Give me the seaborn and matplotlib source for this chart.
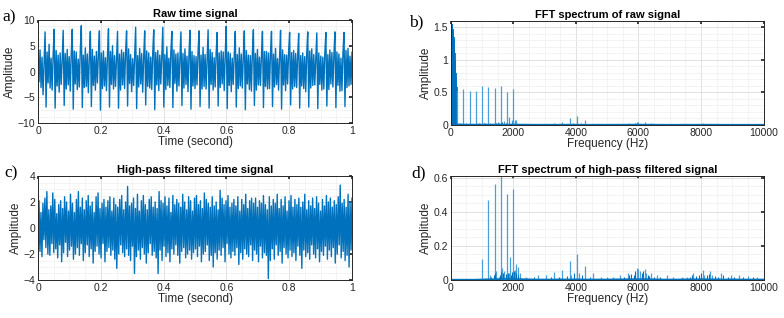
"""
Raw / high-pass filtered time signals and their FFT spectra (4 panels).
"""

import matplotlib
matplotlib.use("Agg")
import matplotlib.pyplot as plt
from matplotlib.ticker import MultipleLocator
import seaborn as sns
import numpy as np

BLUE = "#0072BD"
LIGHT_BLUE = "#4a9fd8"

# ---- raw time signal (samples over 0..1 s) ----
raw_signal = [
    3.5, -2.0, 4.2, -3.1, 2.8, -4.5, 1.5,
    7.7, -6.9, 3.8, -2.2, 5.3, -3.2, 2.6, -3.6, 3.0,
    8.2, -7.1, 4.1, -2.8, 3.2, -4.0, 3.6, -2.5, 2.2,
    8.0, -6.6, 3.5, -3.4, 4.3, -2.6, 2.9, -3.8, 3.3,
    8.2, -7.3, 4.0, -2.4, 3.8, -3.5, 2.4, -3.0, 4.1,
    8.9, -7.0, 3.2, -3.1, 4.6, -2.9, 3.4, -4.1, 2.8,
    7.8, -6.8, 4.3, -2.7, 3.0, -3.6, 3.9, -2.2, 3.5,
    7.9, -7.5, 3.6, -3.3, 4.0, -2.8, 2.7, -3.7, 3.1,
    8.3, -6.9, 3.9, -2.5, 5.0, -3.4, 3.1, -2.9, 2.6,
    7.8, -7.1, 3.4, -3.6, 4.2, -2.6, 3.7, -3.3, 3.8,
    7.9, -6.7, 4.4, -2.3, 3.3, -3.9, 2.5, -2.7, 3.0,
    8.6, -7.2, 3.1, -3.0, 4.5, -2.4, 3.5, -4.0, 2.9,
    7.9, -6.5, 4.0, -2.9, 3.6, -3.2, 2.8, -3.5, 3.7,
    8.1, -7.4, 3.7, -2.6, 4.1, -3.7, 3.2, -2.4, 3.2,
    8.6, -6.9, 3.3, -3.5, 4.8, -2.7, 2.6, -3.1, 3.9,
    7.8, -7.0, 4.2, -2.3, 3.4, -3.8, 3.6, -2.8, 2.7,
    7.7, -6.6, 3.5, -3.2, 4.4, -2.5, 3.0, -3.9, 3.4,
    8.0, -7.3, 3.9, -2.8, 3.1, -3.3, 2.9, -2.6, 3.8,
    7.9, -6.8, 3.2, -3.4, 4.7, -2.9, 3.3, -3.4, 2.5,
    8.1, -7.1, 4.3, -2.5, 3.7, -3.6, 2.7, -3.0, 3.6,
    7.6, -6.7, 3.6, -3.1, 4.0, -2.4, 3.8, -3.7, 3.1,
    8.8, -7.2, 3.8, -2.7, 3.5, -3.9, 2.6, -2.5, 3.3,
    7.8, -6.9, 3.3, -3.3, 4.6, -2.8, 3.4, -3.2, 2.9,
    7.9, -7.4, 4.1, -2.4, 3.2, -3.5, 3.1, -3.8, 3.7,
    8.1, -6.6, 3.5, -3.6, 4.3, -2.6, 2.8, -2.7, 3.0,
    7.8, -7.0, 3.9, -2.9, 3.9, -3.4, 3.6, -3.3, 3.5,
    7.8, -6.8, 3.4, -3.0, 4.5, -2.5, 2.5, -3.6, 2.8,
    8.0, -7.3, 4.2, -2.6, 3.3, -3.7, 3.2, -2.4, 3.9,
    7.6, -6.5, 3.7, -3.4, 4.1, -2.9, 3.5, -3.1, 3.2,
    7.4, -7.1, 3.1, -2.8, 3.6, -3.3, 2.9, -3.9, 3.4,
    7.7, -6.9, 4.0, -3.2, 4.4, -2.7, 3.3, -2.6, 2.7,
    7.5, -7.2, 3.6, -2.5, 3.0, -3.6, 2.8, -3.4, 3.6,
    7.6, -6.7, 3.3, -3.5, 4.2, -2.4, 3.7, -3.0, 3.1,
    7.7, -7.0, 3.8, -2.7, 3.4, -3.8, 2.6, -3.7, 3.5,
    7.6, -6.8, 4.1, -3.1, 4.5, -2.8, 3.0, -2.5, 3.8,
]

# ---- high-pass filtered time signal, in tenths ----
hp_signal_tenths = [
    -34, 21, -18, 12, -22, 19, -9, 23, -15, 28, -20, 14, -21, 17, -12, 27, -19, 22, -16, 11,
    -23, 18, -13, 21, -26, 15, -19, 24, -11, 20, -22, 13, -17, 26, -14, 19, -24, 12, -20, 22,
    -15, 28, -21, 16, -12, 23, -25, 14, -19, 21, -13, 25, -22, 17, -16, 20, -27, 12, -18, 24,
    -14, 27, -20, 15, -23, 19, -12, 22, -26, 16, -18, 21, -15, 24, -21, 13, -17, 23, -24, 18,
    -31, 16, -20, 22, -13, 25, -19, 14, -22, 20, -16, 32, -21, 17, -25, 19, -14, 23, -35, 15,
    -22, 26, -17, 13, -24, 21, -15, 25, -20, 18, -27, 14, -19, 22, -12, 24, -21, 16, -18, 20,
    -23, 15, -35, 28, -17, 21, -25, 19, -14, 24, -22, 17, -19, 23, -26, 12, -16, 25, -20, 18,
    -13, 22, -21, 19, -27, 16, -18, 26, -15, 20, -23, 14, -20, 24, -17, 21, -24, 13, -19, 23,
    -16, 25, -22, 18, -14, 21, -26, 15, -20, 27, -18, 22, -13, 19, -25, 16, -21, 24, -30, 17,
    -19, 20, -24, 14, -17, 29, -21, 23, -15, 18, -26, 21, -12, 25, -20, 16, -23, 19, -18, 22,
    -21, 17, -15, 24, -28, 13, -19, 22, -24, 18, -16, 26, -20, 15, -22, 21, -13, 23, -25, 19,
    -17, 23, -20, 16, -26, 21, -14, 19, -23, 25, -19, 18, -21, 14, -39, 24, -25, 17, -16, 22,
    -24, 19, -13, 26, -21, 15, -18, 22, -27, 17, -15, 24, -20, 13, -23, 21, -17, 25, -22, 16,
    -19, 22, -25, 18, -14, 23, -21, 16, -31, 20, -17, 26, -22, 14, -19, 21, -24, 17, -13, 23,
    -20, 15, -23, 24, -16, 19, -26, 13, -18, 22, -21, 17, -14, 25, -24, 20, -17, 23, -22, 16,
    -15, 21, -27, 18, -20, 24, -13, 33, -23, 19, -18, 22, -25, 16, -21, 26, -30, 20, -17, 23,
]

# ---- FFT of raw signal ----
raw_low_freq = [5, 15, 25, 35, 45, 55, 65, 75, 85, 95, 105, 115, 125, 135, 145, 155, 165, 175, 185]
raw_low_amp = [1.42, 1.50, 1.55, 1.48, 1.53, 1.45, 1.47, 1.40, 1.43, 1.35, 1.30, 1.22,
               1.10, 1.00, 0.90, 0.80, 0.74, 0.65, 0.58]
raw_harm_freq = [200, 400, 600, 800, 1000, 1200, 1400, 1600, 1800, 2000]
raw_harm_amp = [0.53, 0.55, 0.52, 0.53, 0.60, 0.58, 0.57, 0.60, 0.50, 0.55]
raw_minor_freq = [300, 500, 700, 900, 1100, 1300, 1500, 1700, 1850, 1950, 2050, 2100, 2400,
                  3000, 3300, 3550, 3800, 4050, 4300, 4550, 5400, 5700, 5950, 6000, 6200,
                  6400, 6600, 7000, 7700, 8050, 8300, 8600, 8900, 9200, 9600]
raw_minor_amp = [0.03, 0.03, 0.02, 0.03, 0.03, 0.02, 0.04, 0.06, 0.12, 0.08, 0.08, 0.07, 0.02,
                 0.02, 0.03, 0.05, 0.10, 0.14, 0.07, 0.02, 0.02, 0.03, 0.05, 0.04, 0.04,
                 0.03, 0.02, 0.02, 0.02, 0.03, 0.02, 0.02, 0.02, 0.02, 0.02]

# ---- FFT of high-pass filtered signal ----
hp_harm_freq = [1000, 1200, 1400, 1600, 1800, 1890, 2000, 2100, 2140]
hp_harm_amp = [0.125, 0.47, 0.565, 0.61, 0.505, 0.135, 0.535, 0.095, 0.075]
hp_minor_freq = [1250, 1450, 1650, 1700, 1850, 2050, 2200, 2400, 2800, 3050, 3300, 3550, 3800,
                 3850, 4050, 4100, 4300, 4550, 4800, 5000, 5200, 5400, 5650, 5950, 6000, 6050,
                 6200, 6250, 6400, 6600, 6900, 7100, 7400, 7550, 7750, 8050, 8100, 8300, 8350,
                 8650, 8950, 9200, 9500, 9800]
hp_minor_amp = [0.03, 0.05, 0.07, 0.05, 0.04, 0.06, 0.04, 0.02, 0.03, 0.03, 0.045, 0.06, 0.11,
                0.03, 0.155, 0.04, 0.08, 0.04, 0.02, 0.02, 0.015, 0.03, 0.04, 0.07, 0.065, 0.05,
                0.065, 0.04, 0.04, 0.03, 0.03, 0.02, 0.02, 0.02, 0.04, 0.06, 0.03, 0.05, 0.03,
                0.04, 0.03, 0.03, 0.025, 0.02]

# low "grass" under the spectra
raw_grass_freq = [250, 350, 450, 550, 650, 750, 850, 950, 1050, 1150, 1250, 1350, 1450,
                  1550, 1650, 1750, 1950, 2200, 3500, 3750, 3900, 4150, 4400, 5800, 5900,
                  6100, 6300, 6500, 7900, 8100, 8200, 8400, 8800, 9400, 9800]
raw_grass_amp = [0.02, 0.015, 0.02, 0.015, 0.02, 0.015, 0.02, 0.015, 0.025, 0.02, 0.025, 0.02,
                 0.03, 0.025, 0.04, 0.03, 0.03, 0.015, 0.02, 0.02, 0.03, 0.025, 0.015, 0.02,
                 0.025, 0.02, 0.015, 0.015, 0.015, 0.02, 0.015, 0.015, 0.012, 0.012, 0.012]
hp_grass_freq = [1100, 1300, 1380, 1420, 1550, 1580, 1620, 1680, 1750, 1780, 1820, 1920, 1960,
                 2020, 2080, 2160, 2650, 3200, 3450, 3700, 3950, 4200, 4450, 5550, 5700, 5750,
                 5850, 5900, 6100, 6150, 6300, 6350, 6500, 6700, 7650, 7700, 7850, 7950, 8000,
                 8200, 8250, 8450, 8550, 8700, 8850, 9050, 9350, 9650]
hp_grass_amp = [0.01, 0.015, 0.03, 0.04, 0.02, 0.03, 0.045, 0.04, 0.03, 0.035, 0.04, 0.03, 0.045,
                0.05, 0.04, 0.03, 0.015, 0.015, 0.02, 0.025, 0.04, 0.03, 0.02, 0.02, 0.03, 0.035,
                0.03, 0.05, 0.04, 0.05, 0.03, 0.025, 0.02, 0.02, 0.02, 0.03, 0.025, 0.03, 0.04,
                0.03, 0.035, 0.025, 0.02, 0.03, 0.02, 0.02, 0.02, 0.015]

# flat noise floor of both spectra (every 250 Hz)
floor_freq = list(range(0, 10001, 250))
raw_floor = [0.010, 0.008, 0.006, 0.006, 0.007, 0.006, 0.007, 0.006, 0.007, 0.006, 0.005,
             0.004, 0.005, 0.004, 0.005, 0.005, 0.005, 0.004, 0.004, 0.005, 0.004, 0.005,
             0.005, 0.005, 0.006, 0.005, 0.005, 0.004, 0.004, 0.004, 0.005, 0.004, 0.005,
             0.005, 0.005, 0.004, 0.004, 0.004, 0.004, 0.004, 0.004]
hp_floor = [0.002, 0.002, 0.002, 0.002, 0.003, 0.004, 0.005, 0.006, 0.006, 0.005, 0.004,
            0.003, 0.003, 0.003, 0.004, 0.003, 0.004, 0.003, 0.003, 0.003, 0.003, 0.004,
            0.004, 0.005, 0.005, 0.005, 0.004, 0.003, 0.003, 0.003, 0.004, 0.004, 0.005,
            0.004, 0.004, 0.003, 0.004, 0.003, 0.003, 0.003, 0.003]


def style_axis(ax, title, xlabel):
    ax.set_title(title, fontsize=8, fontweight="bold", pad=2, color="black")
    ax.set_xlabel(xlabel, fontsize=8.5, labelpad=0, color="#262626")
    ax.set_ylabel("Amplitude", fontsize=8.5, labelpad=1, color="#262626")
    ax.tick_params(axis="both", which="both", direction="in", labelsize=7.5,
                   colors="#262626", top=True, right=True, length=2.5, pad=2)
    ax.tick_params(which="minor", length=0)
    ax.grid(True, which="major", color="#dcdcdc", linewidth=0.6)
    ax.grid(True, which="minor", color="#eeeeee", linewidth=0.5)
    ax.set_axisbelow(True)
    for sp in ax.spines.values():
        sp.set_color("#262626")
        sp.set_linewidth(0.7)
        sp.set_visible(True)


def plot_time(ax, values, title, ylim, ystep):
    t = np.linspace(0, 1, len(values))
    sns.lineplot(x=t, y=values, ax=ax, color=BLUE, linewidth=1.0,
                 estimator=None, sort=False)
    ax.set_xlim(0, 1)
    ax.set_ylim(*ylim)
    ax.xaxis.set_major_locator(MultipleLocator(0.2))
    ax.xaxis.set_minor_locator(MultipleLocator(0.05))
    ax.yaxis.set_major_locator(MultipleLocator(ystep))
    ax.yaxis.set_minor_locator(MultipleLocator(ystep / 4))
    ax.xaxis.set_major_formatter(plt.FuncFormatter(lambda v, p: f"{v:g}"))
    style_axis(ax, title, "Time (second)")


def plot_spectrum(ax, groups, floor, title, ytop, ystep, yminor):
    for freqs, amps, color, lw in groups:
        ax.vlines(freqs, 0, amps, color=color, linewidth=lw)
    sns.lineplot(x=floor_freq, y=floor, ax=ax, color=BLUE, linewidth=1.2,
                 estimator=None, sort=False)
    ax.set_xlim(0, 10000)
    ax.set_ylim(0, ytop)
    ax.xaxis.set_major_locator(MultipleLocator(2000))
    ax.xaxis.set_minor_locator(MultipleLocator(500))
    ax.yaxis.set_major_locator(MultipleLocator(ystep))
    ax.yaxis.set_minor_locator(MultipleLocator(yminor))
    ax.yaxis.set_major_formatter(plt.FuncFormatter(lambda v, p: f"{v:g}"))
    style_axis(ax, title, "Frequency (Hz)")


sns.set_theme(style="white")
plt.rcParams["font.family"] = ["Liberation Sans", "DejaVu Sans"]

fig = plt.figure(figsize=(7.84, 3.18), dpi=100)
ax_a = fig.add_axes([0.0485, 0.613, 0.4005, 0.324])
ax_b = fig.add_axes([0.575, 0.607, 0.399, 0.327])
ax_c = fig.add_axes([0.0485, 0.1195, 0.4005, 0.327])
ax_d = fig.add_axes([0.575, 0.1195, 0.399, 0.327])

plot_time(ax_a, raw_signal, "Raw time signal", (-10, 10), 5)
plot_time(ax_c, np.array(hp_signal_tenths) / 10, "High-pass filtered time signal", (-4, 4), 2)

plot_spectrum(ax_b,
              [(raw_low_freq, raw_low_amp, BLUE, 1.3),
               (raw_harm_freq, raw_harm_amp, LIGHT_BLUE, 0.9),
               (raw_minor_freq, raw_minor_amp, LIGHT_BLUE, 0.9),
               (raw_grass_freq, raw_grass_amp, BLUE, 0.7)],
              raw_floor, "FFT spectrum of raw signal", 1.6, 0.5, 0.1)
plot_spectrum(ax_d,
              [(hp_harm_freq, hp_harm_amp, LIGHT_BLUE, 0.9),
               (hp_minor_freq, hp_minor_amp, LIGHT_BLUE, 0.9),
               (hp_grass_freq, hp_grass_amp, BLUE, 0.8)],
              hp_floor, "FFT spectrum of high-pass filtered signal", 0.61, 0.2, 0.05)

# panel letters
letter_font = dict(family=["Liberation Serif", "DejaVu Serif"], fontsize=12.5, color="black",
                   va="center", ha="left")
fig.text(0.003, 0.945, "a)", **letter_font)
fig.text(0.522, 0.93, "b)", **letter_font)
fig.text(0.006, 0.455, "c)", **letter_font)
fig.text(0.525, 0.455, "d)", **letter_font)

fig.savefig("out.png", dpi=100)
